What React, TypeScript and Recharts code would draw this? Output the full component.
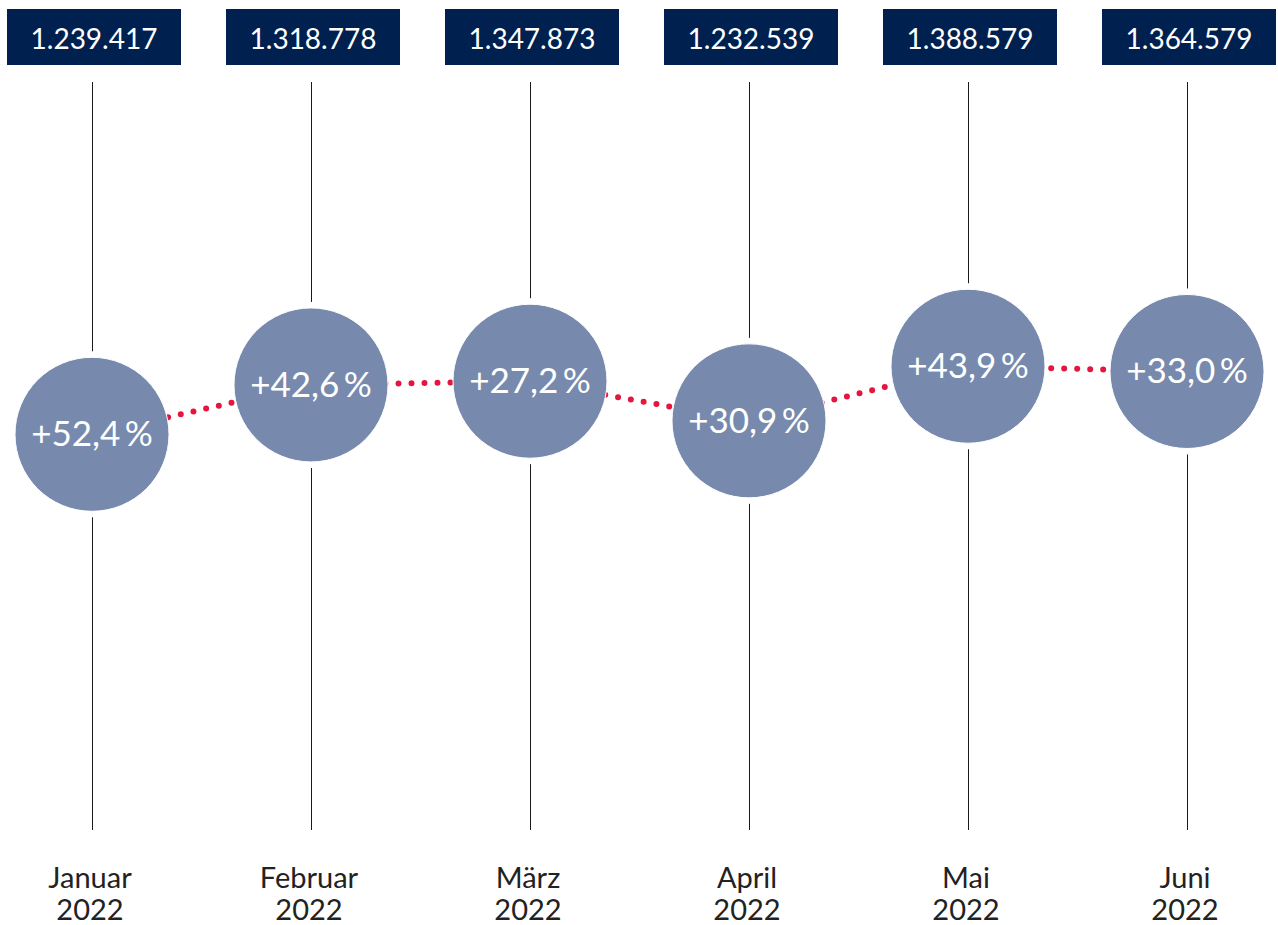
import React from "react";
import { LineChart, Line, XAxis, YAxis } from "recharts";

const months = ["Januar", "Februar", "März", "April", "Mai", "Juni"];
const years = ["2022", "2022", "2022", "2022", "2022", "2022"];
const totals = [1239417, 1318778, 1347873, 1232539, 1388579, 1364579];
const growth = [52.4, 42.6, 27.2, 30.9, 43.9, 33.0];
// vertical level of each bubble (0–100 scale)
const levels = [52.9, 59.5, 60.0, 54.7, 62.0, 61.3];

const data = months.map((m, i) => ({
  idx: i,
  month: m,
  year: years[i],
  total: totals[i],
  growth: growth[i],
  level: levels[i],
}));

const W = 1278;
const H = 925;
const MARGIN = { top: 82, right: 91, bottom: 0, left: 92 };
const X_AXIS_H = 95;
const PLOT_TOP = MARGIN.top;
const PLOT_BOTTOM = H - MARGIN.bottom - X_AXIS_H;

const FONT = "Lato, 'Source Sans Pro', 'Noto Sans', sans-serif";
const NAVY = "#00214f";
const BUBBLE = "#778aad";
const RED = "#e4163d";
const R = 77;
const GAP = 6;

const fmtTotal = (v: number) =>
  String(v).replace(/\B(?=(\d{3})+(?!\d))/g, ".");
const fmtPct = (v: number) => "+" + v.toFixed(1).replace(".", ",") + "\u2009%";

const Bubble = (props: any) => {
  const { cx, cy, payload, index } = props;
  if (cx == null || cy == null) return <g key={`b-${index}`} />;
  const lx = Math.round(cx) + 0.5;
  return (
    <g key={`b-${index}`}>
      <line x1={lx} x2={lx} y1={PLOT_TOP} y2={cy - R - GAP} stroke="#1a1a1a" strokeWidth={1} />
      <line x1={lx} x2={lx} y1={cy + R + GAP} y2={PLOT_BOTTOM} stroke="#1a1a1a" strokeWidth={1} />
      <circle cx={cx} cy={cy} r={R} fill={BUBBLE} stroke="#ffffff" strokeWidth={1} />
      <text
        x={cx}
        y={cy + 12}
        textAnchor="middle"
        fill="#ffffff"
        fontFamily={FONT}
        fontWeight={400}
        fontSize={35}
      >
        {fmtPct(payload.growth)}
      </text>
      <rect x={cx - 85} y={PLOT_TOP - 73} width={174} height={56} fill={NAVY} />
      <text
        x={cx + 2}
        y={PLOT_TOP - 33}
        textAnchor="middle"
        fill="#ffffff"
        fontFamily={FONT}
        fontSize={28}
      >
        {fmtTotal(payload.total)}
      </text>
    </g>
  );
};

const MonthTick = (props: any) => {
  const { x, y, payload } = props;
  const d = data[payload.value];
  if (!d) return null;
  return (
    <g>
      <text x={x - 2} y={y + 58} textAnchor="middle" fill="#222222" fontFamily={FONT} fontSize={29}>
        {d.month}
      </text>
      <text x={x - 2} y={y + 90} textAnchor="middle" fill="#222222" fontFamily={FONT} fontSize={29}>
        {d.year}
      </text>
    </g>
  );
};

export default function App() {
  return (
    <div style={{ position: "absolute", left: 0, top: 0, width: W, height: H, background: "#fff" }}>
      <LineChart width={W} height={H} data={data} margin={MARGIN}>
        <XAxis
          dataKey="idx"
          type="number"
          domain={[0, 5]}
          ticks={[0, 1, 2, 3, 4, 5]}
          axisLine={false}
          tickLine={false}
          tickSize={0}
          tickMargin={0}
          height={X_AXIS_H}
          tick={<MonthTick />}
          interval={0}
        />
        <YAxis type="number" domain={[0, 100]} hide />
        <Line
          dataKey="level"
          type="linear"
          stroke={RED}
          strokeWidth={6}
          strokeDasharray="0 13"
          strokeLinecap="round"
          dot={Bubble}
          activeDot={false}
          isAnimationActive={false}
        />
      </LineChart>
    </div>
  );
}
